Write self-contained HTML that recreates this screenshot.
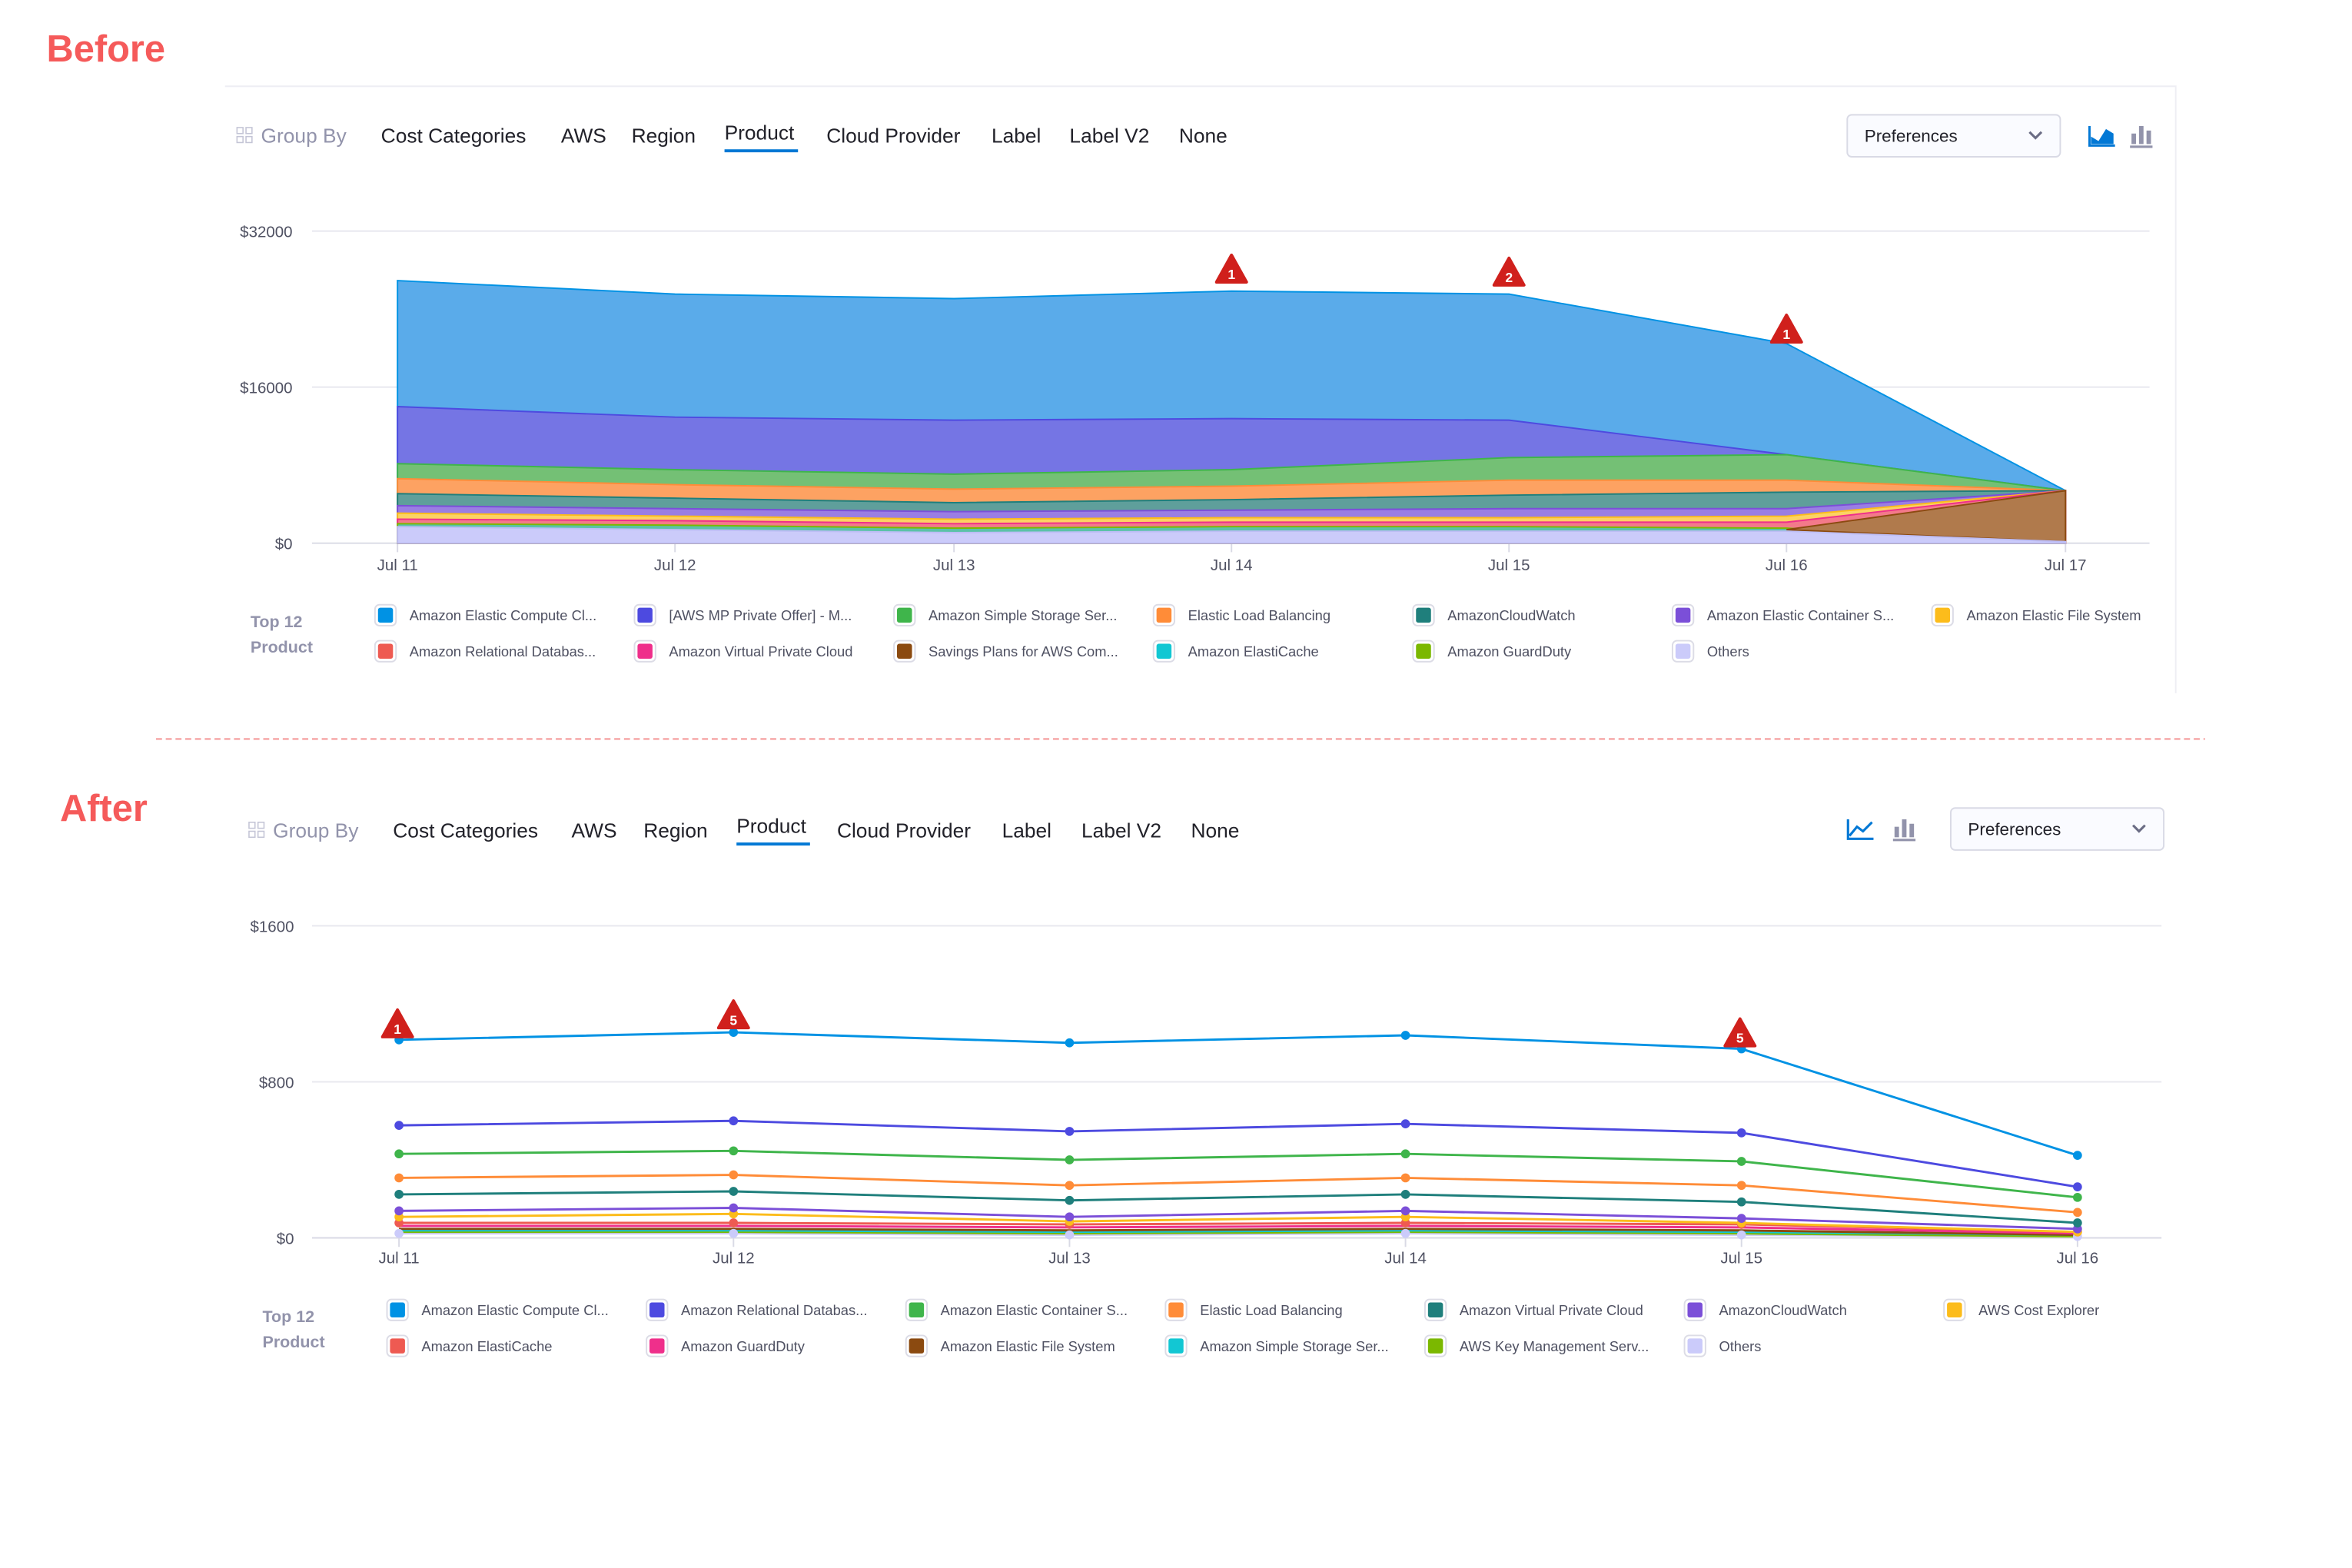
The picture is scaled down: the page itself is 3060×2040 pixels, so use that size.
<!DOCTYPE html>
<html><head><meta charset="utf-8"><style>
html,body{margin:0;padding:0;background:#fff;}
svg{display:block;font-family:"Liberation Sans",sans-serif;}
.tab{font-size:13.5px;fill:#22222a;}
.gb{font-size:13.5px;fill:#9293ab;}
.ax{font-size:10.5px;fill:#4f5162;}
.lg{font-size:9.4px;fill:#4f5162;}
.tt{font-size:11px;fill:#9293ab;font-weight:bold;}
</style></head><body>
<svg width="3060" height="2040" viewBox="0 0 1568 1045" preserveAspectRatio="none" xmlns="http://www.w3.org/2000/svg">
<defs>
<g id="warn"><path d="M0,-11 L10,7 L-10,7 Z" fill="#d0201c" stroke="#d0201c" stroke-width="2" stroke-linejoin="round"/></g>
<g id="grp"><rect x="0" y="0" width="4" height="4" fill="none" stroke="#c4c5d6" stroke-width="0.8"/><rect x="6" y="0" width="4" height="4" fill="none" stroke="#c4c5d6" stroke-width="0.8"/><rect x="0" y="6" width="4" height="4" fill="none" stroke="#c4c5d6" stroke-width="0.8"/><rect x="6" y="6" width="4" height="4" fill="none" stroke="#c4c5d6" stroke-width="0.8"/></g>
</defs>
<rect width="1568" height="1045" fill="#fff"/>

<!-- BEFORE -->
<text x="31" y="41" font-size="25" font-weight="bold" fill="#f55a5a">Before</text>
<path d="M150,57.5 H1450.5 V462" fill="none" stroke="#eeeef4" stroke-width="1"/>
<use href="#grp" x="158" y="85"/>
<text class="gb" x="174" y="95">Group By</text>
<text class="tab" x="254" y="95">Cost Categories</text>
<text class="tab" x="374" y="95">AWS</text>
<text class="tab" x="421" y="95">Region</text>
<text class="tab" x="483" y="93">Product</text>
<rect x="483" y="99.5" width="49" height="2" fill="#0278d5"/>
<text class="tab" x="551" y="95">Cloud Provider</text>
<text class="tab" x="661" y="95">Label</text>
<text class="tab" x="713" y="95">Label V2</text>
<text class="tab" x="786" y="95">None</text>
<rect x="1231.5" y="76.5" width="142" height="28" rx="3" fill="#fafbff" stroke="#d9dae5"/>
<text x="1243" y="94.5" font-size="11.5" fill="#22222a">Preferences</text>
<path d="M1353,88 l4,4 l4,-4" fill="none" stroke="#6b6d85" stroke-width="1.6"/>
<path d="M1393,84 V97 H1410" fill="none" stroke="#0278d5" stroke-width="1.5"/>
<path d="M1394,96 L1394,91 L1399,94 L1404,86 L1409,89 L1409,96 Z" fill="#0278d5"/>
<g fill="#9293ab"><rect x="1421" y="89" width="3" height="7"/><rect x="1426" y="84" width="3" height="12"/><rect x="1431" y="87" width="3" height="9"/><rect x="1420" y="97" width="15" height="1.6"/></g>

<g stroke="#e8e8ef" stroke-width="1"><line x1="208" y1="154" x2="1433" y2="154"/><line x1="208" y1="258" x2="1433" y2="258"/><line x1="208" y1="362" x2="1433" y2="362" stroke="#d9dae5"/></g>
<text class="ax" x="195" y="158" text-anchor="end">$32000</text>
<text class="ax" x="195" y="262" text-anchor="end">$16000</text>
<text class="ax" x="195" y="366" text-anchor="end">$0</text>
<g class="ax" text-anchor="middle"><text x="265" y="380">Jul 11</text><text x="450" y="380">Jul 12</text><text x="636" y="380">Jul 13</text><text x="821" y="380">Jul 14</text><text x="1006" y="380">Jul 15</text><text x="1191" y="380">Jul 16</text><text x="1377" y="380">Jul 17</text></g>
<g stroke="#d9dae5"><line x1="265" y1="362" x2="265" y2="368"/><line x1="450" y1="362" x2="450" y2="368"/><line x1="636" y1="362" x2="636" y2="368"/><line x1="821" y1="362" x2="821" y2="368"/><line x1="1006" y1="362" x2="1006" y2="368"/><line x1="1191" y1="362" x2="1191" y2="368"/><line x1="1377" y1="362" x2="1377" y2="368"/></g>

<g stroke-width="1">
<polygon points="265,187 450,196 636,199 821,194 1006,196 1191,229 1377,327 1377,362 265,362" fill="#5aabea" stroke="#0092e4"/>
<polygon points="265,271 450,278 636,280 821,279 1006,280 1191,303 1377,327 1377,362 265,362" fill="#7575e4" stroke="#4d4ae0"/>
<polygon points="265,309 450,313 636,316 821,313 1006,305 1191,303 1377,327 1377,362 265,362" fill="#74c075" stroke="#3fb54b"/>
<polygon points="265,319 450,323 636,326 821,324 1006,320 1191,320 1377,327 1377,362 265,362" fill="#fda262" stroke="#ff8c38"/>
<polygon points="265,329 450,332 636,335 821,333 1006,330 1191,328 1377,327 1377,362 265,362" fill="#5f9f9b" stroke="#1f7f7c"/>
<polygon points="265,337 450,339 636,341 821,340 1006,339 1191,339 1377,327 1377,362 265,362" fill="#9a7ee3" stroke="#7b4fd8"/>
<polygon points="265,342 450,344 636,346 821,345 1006,345 1191,344 1377,327 1377,362 265,362" fill="#fcd264" stroke="#fcbc1b"/>
<polygon points="265,346 450,347 636,349 821,348 1006,348 1191,348 1377,327 1377,362 265,362" fill="#f37a8a" stroke="#ef2f8b"/>
<polygon points="265,349 450,350 636,352 821,351 1006,351 1191,352 1377,362 265,362" fill="#5bc2a8" stroke="#7bb800"/>
<polygon points="1191,353 1377,327 1377,361" fill="#b07a4c" stroke="#8b4a10"/>
<polygon points="265,351 450,353 636,355 821,354 1006,354 1191,354 1377,361 1377,362 265,362" fill="#cbcbfa" stroke="#bdbdf5"/>
</g>
<use href="#warn" x="821" y="181"/><text x="821" y="186" font-size="9" font-weight="bold" fill="#fff" text-anchor="middle">1</text>
<use href="#warn" x="1006" y="183"/><text x="1006" y="188" font-size="9" font-weight="bold" fill="#fff" text-anchor="middle">2</text>
<use href="#warn" x="1191" y="221"/><text x="1191" y="226" font-size="9" font-weight="bold" fill="#fff" text-anchor="middle">1</text>

<text class="tt" x="167" y="418">Top 12</text>
<text class="tt" x="167" y="435">Product</text>
<g>
<g transform="translate(251,404)"><rect x="-1" y="-1" width="14" height="14" rx="3" fill="#fff" stroke="#dcdce6"/><rect x="1" y="1" width="10" height="10" rx="1.5" fill="#0092e4"/><text class="lg" x="22" y="9.5">Amazon Elastic Compute Cl...</text></g>
<g transform="translate(424,404)"><rect x="-1" y="-1" width="14" height="14" rx="3" fill="#fff" stroke="#dcdce6"/><rect x="1" y="1" width="10" height="10" rx="1.5" fill="#4d4ae0"/><text class="lg" x="22" y="9.5">[AWS MP Private Offer] - M...</text></g>
<g transform="translate(597,404)"><rect x="-1" y="-1" width="14" height="14" rx="3" fill="#fff" stroke="#dcdce6"/><rect x="1" y="1" width="10" height="10" rx="1.5" fill="#3fb54b"/><text class="lg" x="22" y="9.5">Amazon Simple Storage Ser...</text></g>
<g transform="translate(770,404)"><rect x="-1" y="-1" width="14" height="14" rx="3" fill="#fff" stroke="#dcdce6"/><rect x="1" y="1" width="10" height="10" rx="1.5" fill="#ff8c38"/><text class="lg" x="22" y="9.5">Elastic Load Balancing</text></g>
<g transform="translate(943,404)"><rect x="-1" y="-1" width="14" height="14" rx="3" fill="#fff" stroke="#dcdce6"/><rect x="1" y="1" width="10" height="10" rx="1.5" fill="#1f7f7c"/><text class="lg" x="22" y="9.5">AmazonCloudWatch</text></g>
<g transform="translate(1116,404)"><rect x="-1" y="-1" width="14" height="14" rx="3" fill="#fff" stroke="#dcdce6"/><rect x="1" y="1" width="10" height="10" rx="1.5" fill="#7b4fd8"/><text class="lg" x="22" y="9.5">Amazon Elastic Container S...</text></g>
<g transform="translate(1289,404)"><rect x="-1" y="-1" width="14" height="14" rx="3" fill="#fff" stroke="#dcdce6"/><rect x="1" y="1" width="10" height="10" rx="1.5" fill="#fcbc1b"/><text class="lg" x="22" y="9.5">Amazon Elastic File System</text></g>
<g transform="translate(251,428)"><rect x="-1" y="-1" width="14" height="14" rx="3" fill="#fff" stroke="#dcdce6"/><rect x="1" y="1" width="10" height="10" rx="1.5" fill="#ee5a52"/><text class="lg" x="22" y="9.5">Amazon Relational Databas...</text></g>
<g transform="translate(424,428)"><rect x="-1" y="-1" width="14" height="14" rx="3" fill="#fff" stroke="#dcdce6"/><rect x="1" y="1" width="10" height="10" rx="1.5" fill="#ef2f8b"/><text class="lg" x="22" y="9.5">Amazon Virtual Private Cloud</text></g>
<g transform="translate(597,428)"><rect x="-1" y="-1" width="14" height="14" rx="3" fill="#fff" stroke="#dcdce6"/><rect x="1" y="1" width="10" height="10" rx="1.5" fill="#8b4a10"/><text class="lg" x="22" y="9.5">Savings Plans for AWS Com...</text></g>
<g transform="translate(770,428)"><rect x="-1" y="-1" width="14" height="14" rx="3" fill="#fff" stroke="#dcdce6"/><rect x="1" y="1" width="10" height="10" rx="1.5" fill="#12c7d3"/><text class="lg" x="22" y="9.5">Amazon ElastiCache</text></g>
<g transform="translate(943,428)"><rect x="-1" y="-1" width="14" height="14" rx="3" fill="#fff" stroke="#dcdce6"/><rect x="1" y="1" width="10" height="10" rx="1.5" fill="#7bb800"/><text class="lg" x="22" y="9.5">Amazon GuardDuty</text></g>
<g transform="translate(1116,428)"><rect x="-1" y="-1" width="14" height="14" rx="3" fill="#fff" stroke="#dcdce6"/><rect x="1" y="1" width="10" height="10" rx="1.5" fill="#cbcbfa"/><text class="lg" x="22" y="9.5">Others</text></g>
</g>

<line x1="104" y1="492.5" x2="1470" y2="492.5" stroke="#f5a3a3" stroke-width="1.2" stroke-dasharray="4,2.5"/>

<!-- AFTER -->
<text x="40" y="547" font-size="25" font-weight="bold" fill="#f55a5a">After</text>
<use href="#grp" x="166" y="548"/>
<text class="gb" x="182" y="558">Group By</text>
<text class="tab" x="262" y="558">Cost Categories</text>
<text class="tab" x="381" y="558">AWS</text>
<text class="tab" x="429" y="558">Region</text>
<text class="tab" x="491" y="555">Product</text>
<rect x="491" y="561.5" width="49" height="2" fill="#0278d5"/>
<text class="tab" x="558" y="558">Cloud Provider</text>
<text class="tab" x="668" y="558">Label</text>
<text class="tab" x="721" y="558">Label V2</text>
<text class="tab" x="794" y="558">None</text>
<path d="M1232,546 V559 H1249 M1233,557 L1238,551 L1242,554 L1248,548" fill="none" stroke="#0278d5" stroke-width="1.6"/>
<g fill="#9293ab"><rect x="1263" y="551" width="3" height="7"/><rect x="1268" y="546" width="3" height="12"/><rect x="1273" y="549" width="3" height="9"/><rect x="1262" y="559" width="15" height="1.6"/></g>
<rect x="1300.5" y="538.5" width="142" height="28" rx="3" fill="#fafbff" stroke="#d9dae5"/>
<text x="1312" y="556.5" font-size="11.5" fill="#22222a">Preferences</text>
<path d="M1422,550 l4,4 l4,-4" fill="none" stroke="#6b6d85" stroke-width="1.6"/>

<g stroke="#e8e8ef" stroke-width="1"><line x1="208" y1="617" x2="1441" y2="617"/><line x1="208" y1="721" x2="1441" y2="721"/><line x1="208" y1="825" x2="1441" y2="825" stroke="#d9dae5"/></g>
<text class="ax" x="196" y="621" text-anchor="end">$1600</text>
<text class="ax" x="196" y="725" text-anchor="end">$800</text>
<text class="ax" x="196" y="829" text-anchor="end">$0</text>
<g class="ax" text-anchor="middle"><text x="266" y="842">Jul 11</text><text x="489" y="842">Jul 12</text><text x="713" y="842">Jul 13</text><text x="937" y="842">Jul 14</text><text x="1161" y="842">Jul 15</text><text x="1385" y="842">Jul 16</text></g>
<g stroke="#d9dae5"><line x1="266" y1="825" x2="266" y2="831"/><line x1="489" y1="825" x2="489" y2="831"/><line x1="713" y1="825" x2="713" y2="831"/><line x1="937" y1="825" x2="937" y2="831"/><line x1="1161" y1="825" x2="1161" y2="831"/><line x1="1385" y1="825" x2="1385" y2="831"/></g>

<g fill="none" stroke-width="1.5">
<polyline points="266,822 489,822 713,823 937,822 1161,823 1385,824" stroke="#cbcbfa"/>
<polyline points="266,821 489,821 713,822 937,821 1161,822 1385,824" stroke="#7bb800"/>
<polyline points="266,820 489,820 713,821 937,820 1161,821 1385,823" stroke="#12c7d3"/>
<polyline points="266,819 489,819 713,820 937,819 1161,820 1385,823" stroke="#8b4a10"/>
<polyline points="266,817 489,817 713,818 937,817 1161,818 1385,822" stroke="#ef2f8b"/>
<polyline points="266,815 489,815 713,816 937,815 1161,816 1385,821" stroke="#ee5a52"/>
<polyline points="266,811 489,809 713,814 937,811 1161,815 1385,821" stroke="#fcbc1b"/>
<polyline points="266,807 489,805 713,811 937,807 1161,812 1385,819" stroke="#7b4fd8"/>
<polyline points="266,796 489,794 713,800 937,796 1161,801 1385,815" stroke="#1f7f7c"/>
<polyline points="266,785 489,783 713,790 937,785 1161,790 1385,808" stroke="#ff8c38"/>
<polyline points="266,769 489,767 713,773 937,769 1161,774 1385,798" stroke="#3fb54b"/>
<polyline points="266,750 489,747 713,754 937,749 1161,755 1385,791" stroke="#4d4ae0"/>
<polyline points="266,693 489,688 713,695 937,690 1161,699 1385,770" stroke="#0092e4"/>
</g>
<g>
<g fill="#cbcbfa"><circle cx="266" cy="822" r="3"/><circle cx="489" cy="822" r="3"/><circle cx="713" cy="823" r="3"/><circle cx="937" cy="822" r="3"/><circle cx="1161" cy="823" r="3"/><circle cx="1385" cy="824" r="3"/></g>
<g fill="#ee5a52"><circle cx="266" cy="815" r="3"/><circle cx="489" cy="815" r="3"/><circle cx="713" cy="816" r="3"/><circle cx="937" cy="815" r="3"/><circle cx="1161" cy="816" r="3"/><circle cx="1385" cy="821" r="3"/></g>
<g fill="#fcbc1b"><circle cx="266" cy="811" r="3"/><circle cx="489" cy="809" r="3"/><circle cx="713" cy="814" r="3"/><circle cx="937" cy="811" r="3"/><circle cx="1161" cy="815" r="3"/><circle cx="1385" cy="821" r="3"/></g>
<g fill="#7b4fd8"><circle cx="266" cy="807" r="3"/><circle cx="489" cy="805" r="3"/><circle cx="713" cy="811" r="3"/><circle cx="937" cy="807" r="3"/><circle cx="1161" cy="812" r="3"/><circle cx="1385" cy="819" r="3"/></g>
<g fill="#1f7f7c"><circle cx="266" cy="796" r="3"/><circle cx="489" cy="794" r="3"/><circle cx="713" cy="800" r="3"/><circle cx="937" cy="796" r="3"/><circle cx="1161" cy="801" r="3"/><circle cx="1385" cy="815" r="3"/></g>
<g fill="#ff8c38"><circle cx="266" cy="785" r="3"/><circle cx="489" cy="783" r="3"/><circle cx="713" cy="790" r="3"/><circle cx="937" cy="785" r="3"/><circle cx="1161" cy="790" r="3"/><circle cx="1385" cy="808" r="3"/></g>
<g fill="#3fb54b"><circle cx="266" cy="769" r="3"/><circle cx="489" cy="767" r="3"/><circle cx="713" cy="773" r="3"/><circle cx="937" cy="769" r="3"/><circle cx="1161" cy="774" r="3"/><circle cx="1385" cy="798" r="3"/></g>
<g fill="#4d4ae0"><circle cx="266" cy="750" r="3"/><circle cx="489" cy="747" r="3"/><circle cx="713" cy="754" r="3"/><circle cx="937" cy="749" r="3"/><circle cx="1161" cy="755" r="3"/><circle cx="1385" cy="791" r="3"/></g>
<g fill="#0092e4"><circle cx="266" cy="693" r="3"/><circle cx="489" cy="688" r="3"/><circle cx="713" cy="695" r="3"/><circle cx="937" cy="690" r="3"/><circle cx="1161" cy="699" r="3"/><circle cx="1385" cy="770" r="3"/></g>
</g>
<use href="#warn" x="265" y="684"/><text x="265" y="689" font-size="9" font-weight="bold" fill="#fff" text-anchor="middle">1</text>
<use href="#warn" x="489" y="678"/><text x="489" y="683" font-size="9" font-weight="bold" fill="#fff" text-anchor="middle">5</text>
<use href="#warn" x="1160" y="690"/><text x="1160" y="695" font-size="9" font-weight="bold" fill="#fff" text-anchor="middle">5</text>

<text class="tt" x="175" y="881">Top 12</text>
<text class="tt" x="175" y="898">Product</text>
<g>
<g transform="translate(259,867)"><rect x="-1" y="-1" width="14" height="14" rx="3" fill="#fff" stroke="#dcdce6"/><rect x="1" y="1" width="10" height="10" rx="1.5" fill="#0092e4"/><text class="lg" x="22" y="9.5">Amazon Elastic Compute Cl...</text></g>
<g transform="translate(432,867)"><rect x="-1" y="-1" width="14" height="14" rx="3" fill="#fff" stroke="#dcdce6"/><rect x="1" y="1" width="10" height="10" rx="1.5" fill="#4d4ae0"/><text class="lg" x="22" y="9.5">Amazon Relational Databas...</text></g>
<g transform="translate(605,867)"><rect x="-1" y="-1" width="14" height="14" rx="3" fill="#fff" stroke="#dcdce6"/><rect x="1" y="1" width="10" height="10" rx="1.5" fill="#3fb54b"/><text class="lg" x="22" y="9.5">Amazon Elastic Container S...</text></g>
<g transform="translate(778,867)"><rect x="-1" y="-1" width="14" height="14" rx="3" fill="#fff" stroke="#dcdce6"/><rect x="1" y="1" width="10" height="10" rx="1.5" fill="#ff8c38"/><text class="lg" x="22" y="9.5">Elastic Load Balancing</text></g>
<g transform="translate(951,867)"><rect x="-1" y="-1" width="14" height="14" rx="3" fill="#fff" stroke="#dcdce6"/><rect x="1" y="1" width="10" height="10" rx="1.5" fill="#1f7f7c"/><text class="lg" x="22" y="9.5">Amazon Virtual Private Cloud</text></g>
<g transform="translate(1124,867)"><rect x="-1" y="-1" width="14" height="14" rx="3" fill="#fff" stroke="#dcdce6"/><rect x="1" y="1" width="10" height="10" rx="1.5" fill="#7b4fd8"/><text class="lg" x="22" y="9.5">AmazonCloudWatch</text></g>
<g transform="translate(1297,867)"><rect x="-1" y="-1" width="14" height="14" rx="3" fill="#fff" stroke="#dcdce6"/><rect x="1" y="1" width="10" height="10" rx="1.5" fill="#fcbc1b"/><text class="lg" x="22" y="9.5">AWS Cost Explorer</text></g>
<g transform="translate(259,891)"><rect x="-1" y="-1" width="14" height="14" rx="3" fill="#fff" stroke="#dcdce6"/><rect x="1" y="1" width="10" height="10" rx="1.5" fill="#ee5a52"/><text class="lg" x="22" y="9.5">Amazon ElastiCache</text></g>
<g transform="translate(432,891)"><rect x="-1" y="-1" width="14" height="14" rx="3" fill="#fff" stroke="#dcdce6"/><rect x="1" y="1" width="10" height="10" rx="1.5" fill="#ef2f8b"/><text class="lg" x="22" y="9.5">Amazon GuardDuty</text></g>
<g transform="translate(605,891)"><rect x="-1" y="-1" width="14" height="14" rx="3" fill="#fff" stroke="#dcdce6"/><rect x="1" y="1" width="10" height="10" rx="1.5" fill="#8b4a10"/><text class="lg" x="22" y="9.5">Amazon Elastic File System</text></g>
<g transform="translate(778,891)"><rect x="-1" y="-1" width="14" height="14" rx="3" fill="#fff" stroke="#dcdce6"/><rect x="1" y="1" width="10" height="10" rx="1.5" fill="#12c7d3"/><text class="lg" x="22" y="9.5">Amazon Simple Storage Ser...</text></g>
<g transform="translate(951,891)"><rect x="-1" y="-1" width="14" height="14" rx="3" fill="#fff" stroke="#dcdce6"/><rect x="1" y="1" width="10" height="10" rx="1.5" fill="#7bb800"/><text class="lg" x="22" y="9.5">AWS Key Management Serv...</text></g>
<g transform="translate(1124,891)"><rect x="-1" y="-1" width="14" height="14" rx="3" fill="#fff" stroke="#dcdce6"/><rect x="1" y="1" width="10" height="10" rx="1.5" fill="#cbcbfa"/><text class="lg" x="22" y="9.5">Others</text></g>
</g>
</svg>
</body></html>
